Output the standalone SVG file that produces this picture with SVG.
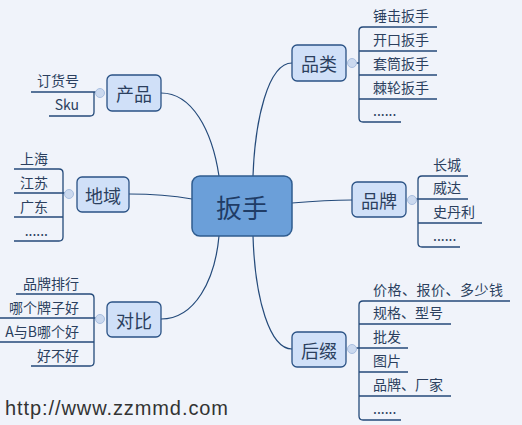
<svg xmlns="http://www.w3.org/2000/svg" width="522" height="425" viewBox="0 0 522 425">
<defs>
<style>
.bg{fill:#f0f3fa}
.node{fill:#d0e0f8;stroke:#2a5285;stroke-width:1.3}
.root{fill:#6b9fd9;stroke:#2f5c8f;stroke-width:1.5}
.ln{fill:none;stroke:#244a7a;stroke-width:1.3}
.cur{fill:none;stroke:#244a7a;stroke-width:1.2}
.dot{fill:#cbd9ef;stroke:#a9bfe0;stroke-width:1}
.t{font-family:"Noto Sans CJK SC","Liberation Sans",sans-serif;font-size:14px;fill:#2b3f5e}
.r{text-anchor:end}
.nl{font-family:"Noto Sans CJK SC",sans-serif;font-size:18px;fill:#2b3f5e;text-anchor:middle;dominant-baseline:central}
.rl{font-family:"Noto Sans CJK SC",sans-serif;font-size:26px;fill:#1f3c66;text-anchor:middle;dominant-baseline:central}
</style>
</defs>
<rect class="bg" x="0" y="0" width="522" height="425"/>
<g id="connectors">
<path class="cur" d="M161,93 C192,93 212,130 219,176"/>
<path class="cur" d="M292,63 C268,63 255,120 253,176"/>
<path class="cur" d="M129,194 C160,194 175,196 192,199"/>
<path class="cur" d="M292,203 C315,201 330,200 352,200"/>
<path class="cur" d="M161,319 C195,319 215,280 219,236"/>
<path class="cur" d="M292,349 C270,349 255,300 253,236"/>
</g>
<g id="root">
<rect class="root" x="192" y="176" width="100" height="60" rx="8"/>
<text class="rl" x="242" y="206">扳手</text>
</g>
<g id="chanpin">
<rect class="node" x="107" y="75" width="54" height="36" rx="5"/>
<text class="nl" x="134" y="93">产品</text>
<path class="ln" d="M31,92 H100 M49,116 H90 Q94,116 94,112 V92"/>
<circle class="dot" cx="100" cy="93" r="4.5"/>
<text class="t r" x="79" y="86">订货号</text>
<text class="t r" x="79" y="110">Sku</text>
</g>
<g id="diyu">
<rect class="node" x="77" y="177" width="52" height="35" rx="5"/>
<text class="nl" x="103" y="194.5">地域</text>
<path class="ln" d="M14,169 H59 Q63,169 63,173 V237 Q63,241 59,241 H14 M14,193 H69 M14,217 H63"/>
<circle class="dot" cx="69" cy="194" r="4.5"/>
<text class="t r" x="48" y="164">上海</text>
<text class="t r" x="48" y="188">江苏</text>
<text class="t r" x="48" y="212">广东</text>
<text class="t r" x="48" y="236">......</text>
</g>
<g id="duibi">
<rect class="node" x="107" y="302" width="54" height="35" rx="5"/>
<text class="nl" x="134" y="319.5">对比</text>
<path class="ln" d="M16,294 H90 Q94,294 94,298 V362 Q94,366 90,366 H31 M0,318 H100 M0,342 H94"/>
<circle class="dot" cx="100" cy="319" r="4.5"/>
<text class="t r" x="79" y="289">品牌排行</text>
<text class="t r" x="79" y="313">哪个牌子好</text>
<text class="t r" x="79" y="337">A与B哪个好</text>
<text class="t r" x="79" y="361">好不好</text>
</g>
<g id="pinlei">
<rect class="node" x="292" y="45" width="54" height="36" rx="5"/>
<text class="nl" x="319" y="63">品类</text>
<path class="ln" d="M437,27 H363 Q359,27 359,31 V118 Q359,122 363,122 H401 M359,51 H437 M359,75 H437 M359,99 H437 M352,63 H359"/>
<circle class="dot" cx="352" cy="63" r="4.5"/>
<text class="t" x="373" y="21">锤击扳手</text>
<text class="t" x="373" y="45">开口扳手</text>
<text class="t" x="373" y="69">套筒扳手</text>
<text class="t" x="373" y="93">棘轮扳手</text>
<text class="t" x="373" y="116">......</text>
</g>
<g id="pinpai">
<rect class="node" x="352" y="182" width="54" height="35" rx="5"/>
<text class="nl" x="379" y="199.5">品牌</text>
<path class="ln" d="M468,176 H422 Q418,176 418,180 V243 Q418,247 422,247 H460 M412,199 H468 M418,223 H482"/>
<circle class="dot" cx="412" cy="200" r="4.5"/>
<text class="t" x="433" y="170">长城</text>
<text class="t" x="433" y="193">威达</text>
<text class="t" x="433" y="217">史丹利</text>
<text class="t" x="433" y="241">......</text>
</g>
<g id="houzhui">
<rect class="node" x="292" y="332" width="54" height="35" rx="5"/>
<text class="nl" x="319" y="349.5">后缀</text>
<path class="ln" d="M510,301 H363 Q359,301 359,305 V416 Q359,420 363,420 H401 M359,324 H451 M352,348 H408 M359,372 H408 M359,396 H451"/>
<circle class="dot" cx="352" cy="349" r="4.5"/>
<text class="t" x="373" y="295" textLength="130">价格、报价、多少钱</text>
<text class="t" x="373" y="318">规格、型号</text>
<text class="t" x="373" y="342">批发</text>
<text class="t" x="373" y="366">图片</text>
<text class="t" x="373" y="390">品牌、厂家</text>
<text class="t" x="373" y="414">......</text>
</g>
<text x="5" y="415" font-family="Liberation Sans, Arial, sans-serif" font-size="20" fill="#333333" textLength="223">http://www.zzmmd.com</text>
</svg>
